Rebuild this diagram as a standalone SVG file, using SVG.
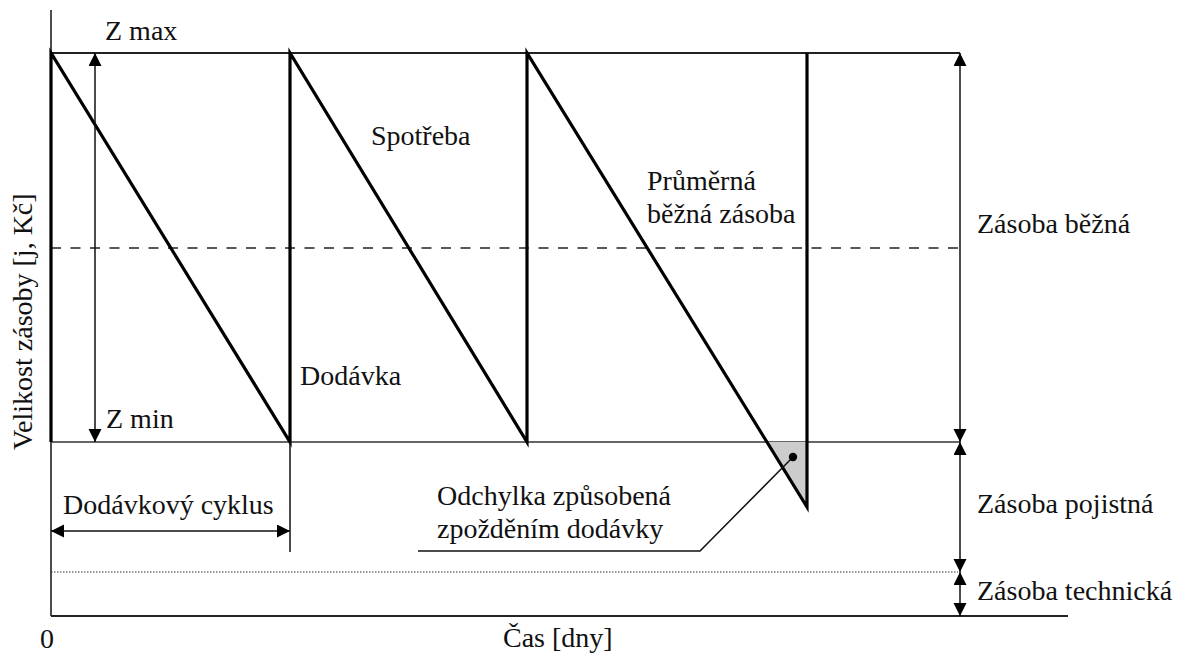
<svg xmlns="http://www.w3.org/2000/svg" width="1189" height="658" viewBox="0 0 1189 658">
  <defs>
    <marker id="arrow" markerUnits="userSpaceOnUse" markerWidth="14" markerHeight="14" refX="13" refY="6.5" orient="auto-start-reverse">
      <path d="M0,0 L13,6.5 L0,13 z" fill="#000"/>
    </marker>
  </defs>

  <rect width="1189" height="658" fill="#fff"/>

  <!-- axes and reference levels -->
  <g id="axes" fill="none">
    <line x1="51" y1="10" x2="51" y2="616" stroke="#111" stroke-width="1.5"/>
    <line x1="51" y1="616" x2="1068" y2="616" stroke="#222" stroke-width="2"/>
    <line x1="51" y1="53" x2="960" y2="53" stroke="#222" stroke-width="2"/>
    <line x1="51" y1="442" x2="960" y2="442" stroke="#333" stroke-width="1.5"/>
    <line x1="51" y1="248" x2="958" y2="248" stroke="#222" stroke-width="1.4" stroke-dasharray="10 9.5"/>
    <line x1="51" y1="572" x2="958" y2="572" stroke="#333" stroke-width="1.2" stroke-dasharray="1.5 1.5"/>
  </g>

  <!-- delay deviation area -->
  <g id="deviation">
    <polygon points="767,442 807,442 807,507" fill="#cccccc"/>
  </g>

  <!-- stock level sawtooth -->
  <g id="stock-curve">
    <polyline points="51,442 51,53 290,442 290,53 527,442 527,53 807,507 807,53" fill="none" stroke="#000" stroke-width="3.2"/>
  </g>

  <!-- dimension lines and leaders -->
  <g id="connectors" fill="none" stroke="#111" stroke-width="1.5">
    <g marker-start="url(#arrow)" marker-end="url(#arrow)">
      <line x1="95" y1="53" x2="95" y2="442"/>
      <line x1="960" y1="53" x2="960" y2="442"/>
      <line x1="960" y1="442" x2="960" y2="572"/>
      <line x1="960" y1="572" x2="960" y2="616"/>
      <line x1="51" y1="531" x2="290" y2="531"/>
    </g>
    <line x1="290" y1="442" x2="290" y2="552"/>
    <polyline points="793,457 700,551 418,551"/>
    <circle cx="793" cy="457" r="4.2" fill="#000" stroke="none"/>
  </g>

  <!-- labels (Times-metric serif) -->
  <g id="label-zmax"><text x="105" y="40" style="font-family:'Liberation Serif','Times New Roman',serif;font-size:28px;fill:#111">Z max</text></g>
  <g id="label-zmin"><text x="106" y="428" style="font-family:'Liberation Serif','Times New Roman',serif;font-size:28px;fill:#111">Z min</text></g>
  <g id="label-spotreba"><text x="371" y="145" style="font-family:'Liberation Serif','Times New Roman',serif;font-size:28px;fill:#111">Spotřeba</text></g>
  <g id="label-prumerna">
    <text x="647" y="190" style="font-family:'Liberation Serif','Times New Roman',serif;font-size:28px;fill:#111">Průměrná</text>
    <text x="647" y="223" style="font-family:'Liberation Serif','Times New Roman',serif;font-size:28px;fill:#111">běžná zásoba</text>
  </g>
  <g id="label-dodavka"><text x="300" y="385" style="font-family:'Liberation Serif','Times New Roman',serif;font-size:28px;fill:#111">Dodávka</text></g>
  <g id="label-cyklus"><text x="63" y="514" style="font-family:'Liberation Serif','Times New Roman',serif;font-size:28px;fill:#111">Dodávkový cyklus</text></g>
  <g id="label-odchylka">
    <text x="437" y="505" style="font-family:'Liberation Serif','Times New Roman',serif;font-size:28px;fill:#111">Odchylka způsobená</text>
    <text x="437" y="538" style="font-family:'Liberation Serif','Times New Roman',serif;font-size:28px;fill:#111">zpožděním dodávky</text>
  </g>
  <g id="label-bezna"><text x="977" y="233" style="font-family:'Liberation Serif','Times New Roman',serif;font-size:28px;fill:#111">Zásoba běžná</text></g>
  <g id="label-pojistna"><text x="977" y="513" style="font-family:'Liberation Serif','Times New Roman',serif;font-size:28px;fill:#111">Zásoba pojistná</text></g>
  <g id="label-technicka"><text x="977" y="600" style="font-family:'Liberation Serif','Times New Roman',serif;font-size:28px;fill:#111">Zásoba technická</text></g>
  <g id="label-zero"><text x="40" y="648" style="font-family:'Liberation Serif','Times New Roman',serif;font-size:28px;fill:#111">0</text></g>
  <g id="label-cas"><text x="503" y="647" style="font-family:'Liberation Serif','Times New Roman',serif;font-size:28px;fill:#111">Čas [dny]</text></g>
  <g id="label-y"><text transform="translate(32,450) rotate(-90)" style="font-family:'Liberation Serif','Times New Roman',serif;font-size:28px;fill:#111">Velikost zásoby [j, Kč]</text></g>
</svg>
